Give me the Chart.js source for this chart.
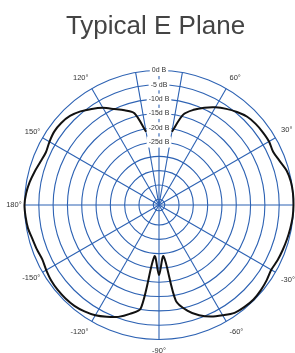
<!DOCTYPE html>
<html>
<head>
<meta charset="utf-8">
<script src="https://cdn.jsdelivr.net/npm/chart.js@4.4.1/dist/chart.umd.min.js"></script>
<style>
  html, body { margin: 0; padding: 0; background: #fff; width: 295px; height: 353px; overflow: hidden; }
  #wrap { position: absolute; left: 2px; top: 0; width: 307px; height: 360px; }
</style>
</head>
<body>
<div id="wrap"><canvas id="polarChart"></canvas></div>
<script>
// Typical E Plane - polar pattern (dB)

// angles, clockwise from 80° round to 100° (gap at the top)
const angleDeg = [
  80, 75, 70, 65, 60, 55, 50, 45, 40, 35, 30, 25, 20, 15, 10, 5, 0,
  -5, -10, -15, -20, -25, -30, -35, -40, -45, -50, -55, -60, -65, -70, -75, -80, -85,
  -90, -95, -100, -105, -110, -115, -120, -125, -130, -135, -140, -145, -150, -155, -160, -165, -170, -175,
  180, 175, 170, 165, 160, 155, 150, 145, 140, 135, 130, 125, 120, 115, 110, 105, 100
];
const gainDb = [
  -21, -14.3, -11.6, -9.5, -7.6, -6.0, -4.6, -3.4, -2.9, -2.7, -2.6, -3.0, -2.1, -0.8, -0.2, 0, 0,
  -0.1, -0.4, -0.7, -1.0, -1.3, -1.7, -1.1, -0.6, -0.3, -0.5, -1.0, -2.5, -4.0, -6.0, -8.8, -13.0, -29,
  -22.5, -29, -10.3, -7.6, -5.4, -3.9, -2.5, -1.6, -1.0, -0.8, -0.8, -1.0, -1.5, -2.0, -1.6, -1.2, -0.5, -0.2,
  0, -0.4, -1.1, -2.0, -2.9, -3.4, -2.8, -2.3, -2.4, -3.0, -4.3, -6.0, -7.8, -10.0, -11.8, -13.8, -21
];

// rings and their labels
const ringDb = [-45, -40, -35, -30, -25, -20, -15, -10, -5, 0];
const ringText = ['', '', '', '', '-25d B', '-20d B', '-15d B', '-10d B', '-5 dB', '0d B'];

// spokes drawn and angles that get a label
const spokeAngles = [0, 30, 60, 80, 90, 100, 120, 150, 180, -30, -60, -90, -120, -150];
const labeledAngles = [30, 60, 120, 150, 180, -30, -60, -90, -120, -150];
// labels on the left sit a little closer to the rim
const labelPad = { 180: -2.7, 150: -3, '-150': -3 };

const GRID_BLUE = '#2d62b3';
const FONT = "'Liberation Sans', Arial, Helvetica, sans-serif";

// radar runs clockwise from the top, one category every 5 degrees
const STEP = 5;
const categories = [];
for (let i = 0; i < 360 / STEP; i++) {
    let a = 90 - i * STEP;
    if (a <= -180) a += 360;
    categories.push(a);
}
const series = categories.map(a => {
    const k = angleDeg.indexOf(a);
    return k === -1 ? null : gainDb[k];
});

function isLabeled(index) {
    return labeledAngles.includes(categories[index]);
}

new Chart(document.getElementById('polarChart'), {
    type: 'radar',
    data: {
        labels: categories,
        datasets: [{
            data: series,
            borderColor: '#111111',
            borderWidth: 2,
            pointRadius: 0,
            fill: false,
            tension: 0.3,
            spanGaps: false
        }]
    },
    options: {
        responsive: true,
        maintainAspectRatio: false,
        animation: false,
        layout: { padding: 0 },
        plugins: {
            legend: { display: false },
            tooltip: { enabled: false },
            title: {
                display: true,
                text: 'Typical E Plane',
                color: '#444444',
                font: { family: FONT, size: 26, weight: 'normal' },
                padding: { top: 11, bottom: 18.8 }
            }
        },
        scales: {
            r: {
                min: -47,
                max: 0,
                startAngle: 0,
                afterBuildTicks: scale => {
                    scale.ticks = ringDb.map(v => ({ value: v }));
                },
                ticks: {
                    color: '#333333',
                    font: { family: FONT, size: 7 },
                    backdropColor: '#ffffff',
                    backdropPadding: 2,
                    showLabelBackdrop: ctx => ringText[ringDb.indexOf(ctx.tick.value)] !== '',
                    callback: value => ringText[ringDb.indexOf(value)]
                },
                grid: {
                    circular: true,
                    color: GRID_BLUE,
                    lineWidth: 1.1
                },
                angleLines: {
                    color: GRID_BLUE,
                    lineWidth: ctx => spokeAngles.includes(categories[ctx.index]) ? 1.1 : 0
                },
                pointLabels: {
                    color: '#333333',
                    padding: ctx => {
                        if (!isLabeled(ctx.index)) return 0;
                        const a = categories[ctx.index];
                        return a in labelPad ? labelPad[a] : 1;
                    },
                    font: ctx => ({ family: FONT, size: isLabeled(ctx.index) ? 7.5 : 0.1 }),
                    callback: (label, index) => isLabeled(index) ? label + '°' : ''
                }
            }
        }
    }
});
</script>
</body>
</html>
